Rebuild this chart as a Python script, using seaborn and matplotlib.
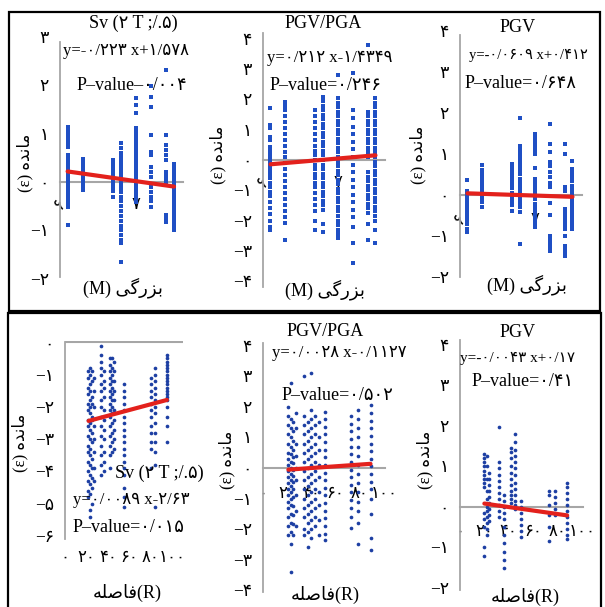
import matplotlib
matplotlib.use("Agg")
import matplotlib.pyplot as plt
import numpy as np
import pandas as pd
import seaborn as sns
from matplotlib.patches import Rectangle

sns.set_theme(style="white")
plt.rcParams["font.family"] = ["Liberation Serif", "DejaVu Sans"]
plt.rcParams["axes.unicode_minus"] = True

# ---------------- data ----------------
# magnitude (M) columns shared by the three upper panels
M_COLS = [6.1, 6.3, 6.7, 6.8, 7.0, 7.2, 7.4, 7.5]

SV_M_RES = [
    [1.14, 1.08, 1.02, 0.96, 0.9, 0.84, 0.78, 0.72, 0.55, 0.48, 0.42, 0.35, 0.28, 0.22, 0.15,
     0.08, 0.02, -0.05, -0.12, -0.2, -0.28, -0.36, -0.44, -0.51, -0.89],
    [0.47, 0.4, 0.33, 0.26, 0.19, 0.12, 0.05, -0.02, -0.09, -0.16],
    [0.45, 0.37, 0.29, 0.21, 0.13, 0.05, -0.03, -0.11, -0.19, -0.3],
    [0.81, 0.7, 0.6, 0.52, 0.44, 0.36, 0.28, 0.2, 0.12, 0.04, -0.04, -0.12, -0.2, -0.3, -0.4,
     -0.5, -0.6, -0.7, -0.8, -0.9, -1.0, -1.1, -1.2, -1.26, -1.64],
    [1.73, 1.59, 1.43, 1.11, 1.03, 0.95, 0.87, 0.79, 0.71, 0.63, 0.55, 0.47, 0.39, 0.31, 0.23,
     0.15, 0.07, -0.01, -0.09, -0.17, -0.25, -0.33, -0.41],
    [1.97, 1.76, 1.55, 0.97, 0.62, 0.55, 0.31, 0.2, 0.1, -0.1, -0.2, -0.3, -0.4, -0.51],
    [2.31, 0.97, 0.76, 0.66, 0.56, 0.45, 0.21, 0.14, 0.07, 0.01, -0.68, -0.75, -0.82],
    [0.38, 0.3, 0.22, 0.14, 0.06, -0.02, -0.1, -0.18, -0.26, -0.34, -0.42, -0.5, -0.58, -0.66,
     -0.74, -0.82, -0.9, -0.99],
]

PGVPGA_M_RES = [
    [1.71, 1.16, 1.05, 0.77, 0.66, 0.44, 0.34, 0.24, 0.14, 0.04, -0.06, -0.16, -0.26, -0.36,
     -0.46, -0.6, -0.75, -0.9, -1.05, -1.2, -1.4, -1.6, -1.8, -2.0, -2.2, -2.31],
    [1.93, 1.8, 1.65, 1.45, 1.25, 1.05, 0.85, 0.65, 0.45, 0.25, 0.1, -0.1, -0.3, -0.5, -0.7,
     -0.9, -1.1, -1.3, -1.5, -1.7, -1.9, -2.09, -2.64],
    [1.65, 1.45, 1.25, 1.05, 0.85, 0.65, 0.45, 0.3, 0.15, 0.0, -0.15, -0.3, -0.45, -0.6, -0.75,
     -0.9, -1.1, -1.3, -1.5, -1.7, -2.0, -2.31],
    [2.09, 1.95, 1.8, 1.65, 1.5, 1.35, 1.2, 1.05, 0.9, 0.75, 0.6, 0.45, 0.3, 0.15, 0.0, -0.15,
     -0.3, -0.45, -0.6, -0.75, -0.9, -1.05, -1.2, -1.35, -1.5, -1.65, -2.1, -2.37],
    [2.81, 2.04, 1.9, 1.75, 1.6, 1.45, 1.3, 1.15, 1.0, 0.85, 0.7, 0.55, 0.4, 0.25, 0.1, -0.05,
     -0.2, -0.35, -0.5, -0.65, -0.8, -0.95, -1.1, -1.25, -1.4, -1.55, -1.7, -1.85, -2.0, -2.15,
     -2.3, -2.45, -2.59],
    [2.87, 1.65, 1.4, 1.1, 0.85, 0.6, 0.35, 0.1, -0.15, -0.4, -0.65, -0.9, -1.15, -1.4, -1.65,
     -1.9, -2.2, -2.75, -3.42],
    [3.8, 1.6, 1.45, 1.3, 1.15, 1.0, 0.85, 0.7, 0.55, 0.4, 0.25, 0.1, -0.4, -0.55, -0.7, -0.85,
     -1.0, -1.15, -1.3, -1.45, -1.6, -1.75, -2.1, -2.64],
    [2.04, 1.9, 1.75, 1.6, 1.45, 1.3, 1.15, 1.0, 0.85, 0.7, 0.55, 0.4, 0.25, 0.1, -0.05, -0.2,
     -0.35, -0.5, -0.65, -0.8, -0.95, -1.1, -1.25, -1.4, -1.55, -1.7, -1.85, -2.0, -2.3, -2.75],
]

PGV_M_RES = [
    [0.37, 0.1, 0.02, -0.06, -0.14, -0.22, -0.3, -0.38, -0.46, -0.54, -0.62, -0.72, -0.82, -0.91],
    [0.72, 0.62, 0.52, 0.42, 0.32, 0.22, 0.12, 0.02, -0.08, -0.18, -0.3],
    [0.76, 0.66, 0.56, 0.46, 0.36, 0.26, 0.16, 0.06, -0.04, -0.14, -0.24, -0.38],
    [1.87, 1.2, 1.1, 1.0, 0.9, 0.8, 0.7, 0.6, 0.5, 0.4, 0.3, 0.2, 0.1, 0.0, -0.1, -0.2, -0.3,
     -0.42, -1.2],
    [1.49, 1.39, 1.29, 1.19, 1.09, 1.0, 0.67, 0.39, 0.29, 0.19, 0.09, -0.01, -0.11, -0.21,
     -0.31, -0.41, -0.51, -0.61, -0.71, -0.79],
    [1.73, 1.24, 1.04, 0.8, 0.7, 0.55, 0.45, 0.3, 0.19, -0.2, -0.5, -0.99, -1.1, -1.2, -1.28, -1.36],
    [1.24, 1.0, 0.19, 0.1, -0.34, -0.44, -0.54, -0.64, -0.74, -0.84, -0.99, -1.24, -1.32, -1.4, -1.48],
    [0.84, 0.63, 0.53, 0.43, 0.33, 0.23, 0.13, 0.03, -0.07, -0.17, -0.27, -0.37, -0.47, -0.57,
     -0.67, -0.75, -0.83],
]

# distance (R, km) columns for the three lower panels
SV_R_COLS = [21, 23, 25, 27, 34, 36, 42, 44, 46, 55, 80, 84, 95]
SV_R_RES = [
    [-0.9, -1.1, -1.4, -1.6, -1.9, -2.1, -2.4, -2.6, -2.9, -3.2, -3.4, -3.7, -4.0, -4.3, -4.6, -4.8],
    [-0.8, -1.0, -1.3, -1.5, -1.8, -2.0, -2.2, -2.5, -2.7, -3.0, -3.3, -3.5, -3.8, -4.1, -4.4,
     -4.7, -5.2, -5.4],
    [-0.9, -1.2, -1.7, -1.9, -2.3, -2.4, -2.8, -3.1, -3.6, -3.9, -4.2, -4.5, -5.0],
    [-1.1, -1.5, -2.0, -2.6, -3.0, -3.4, -3.9, -4.3],
    [-0.1, -0.4, -0.6, -0.8, -1.0, -1.3, -1.5, -1.8, -2.0, -2.3, -2.6, -2.9, -3.2, -3.5, -3.8, -4.1],
    [-0.9, -1.2, -1.4, -1.7, -2.1, -2.4, -2.7, -3.0, -3.4, -3.7, -4.0],
    [-0.5, -0.7, -0.9, -1.1, -1.3, -1.5, -1.7, -1.9, -2.1, -2.3, -2.6, -2.9, -3.2, -3.5, -3.9],
    [-0.5, -0.8, -1.0, -1.2, -1.4, -1.6, -1.8, -2.0, -2.2, -2.5, -2.8, -3.1, -3.4],
    [-0.6, -0.9, -1.2, -1.5, -1.8, -2.1, -2.4, -2.7, -3.0, -3.3],
    [-1.3, -1.5, -1.7, -1.9, -2.1, -2.3, -2.5, -2.7, -2.9, -3.1, -3.3, -3.5, -3.7, -3.9, -4.1,
     -4.5, -4.8, -5.1],
    [-1.1, -1.3, -1.5, -1.7, -1.9, -2.1, -2.3, -2.6, -2.8, -3.1, -3.3, -3.9],
    [-0.8, -1.0, -1.2, -1.4, -1.6, -1.8, -2.0, -2.2, -2.5, -2.8, -3.1, -3.4, -3.8, -5.1],
    [-0.4, -0.5, -0.6, -0.7, -0.8, -0.9, -1.0, -1.1, -1.2, -1.3, -1.4, -1.5, -1.6, -1.7, -1.8,
     -2.0, -2.3, -2.6, -3.1],
]

PGVPGA_R_COLS = [21, 23, 25, 27, 34, 37, 40, 43, 46, 51, 73, 79, 89]
PGVPGA_R_RES = [
    [2.0, 1.7, 1.4, 1.1, 0.8, 0.5, 0.3, 0.1, -0.1, -0.3, -0.5, -0.7, -0.9, -1.1, -1.3, -1.6, -1.9, -2.2],
    [2.8, 1.6, 1.3, 1.0, 0.7, 0.45, 0.2, 0.0, -0.2, -0.4, -0.6, -0.8, -1.0, -1.2, -1.5, -1.8,
     -2.1, -2.5, -3.4],
    [1.5, 1.2, 0.9, 0.6, 0.35, 0.15, -0.05, -0.25, -0.45, -0.7, -0.95, -1.25, -1.55, -1.85, -2.2],
    [1.8, 1.3, 0.8, 0.4, 0.0, -0.4, -0.9, -1.4, -1.9],
    [3.0, 1.7, 1.4, 1.1, 0.8, 0.5, 0.2, -0.1, -0.4, -0.7, -1.0, -1.3, -1.6, -2.0, -2.2],
    [1.5, 1.2, 0.9, 0.6, 0.3, 0.0, -0.3, -0.6, -0.9, -1.2, -1.5, -1.8, -2.1, -2.6],
    [3.1, 1.9, 1.6, 1.3, 1.0, 0.7, 0.4, 0.1, -0.2, -0.5, -0.8, -1.1, -1.4, -1.7, -2.0, -2.3],
    [1.7, 1.4, 1.1, 0.8, 0.5, 0.2, -0.1, -0.4, -0.7, -1.0, -1.3, -1.6, -1.9],
    [1.5, 1.0, 0.6, 0.1, -0.3, -0.8, -1.2, -1.7, -2.2],
    [1.85, 1.6, 1.35, 1.1, 0.85, 0.6, 0.35, 0.1, -0.15, -0.4, -0.65, -0.9, -1.15, -1.4, -1.65,
     -1.9, -2.15, -2.36],
    [1.7, 1.45, 1.2, 0.95, 0.7, 0.45, 0.2, -0.05, -0.3, -0.55, -0.8, -1.05, -1.3, -1.6, -1.98],
    [1.9, 1.6, 1.3, 1.0, 0.7, 0.4, 0.1, -0.2, -0.5, -0.8, -1.1, -1.4, -1.8, -2.5],
    [2.05, 1.8, 1.55, 1.3, 1.05, 0.8, 0.55, 0.3, 0.05, -0.2, -0.45, -0.7, -1.0, -1.5, -2.3, -2.7],
]

PGV_R_COLS = [20, 22, 24, 32, 36, 42, 45, 50, 73, 78, 88]
PGV_R_RES = [
    [1.3, 1.2, 1.1, 1.0, 0.9, 0.8, 0.7, 0.6, 0.5, -0.15, -0.3, -0.5, -1.0, -1.2],
    [1.25, 1.0, 0.7, 0.4, 0.2, 0.0, -0.1, -0.25, -0.4, -0.55, -0.7],
    [0.85, 0.7, 0.55, 0.4, 0.25, 0.1, -0.05, -0.2, -0.35],
    [1.98, 1.1, 0.95, 0.8, 0.65, 0.5, 0.35, 0.2, 0.05, -0.1, -0.25],
    [0.3, 0.15, 0.0, -0.15, -0.3, -0.5, -0.7, -0.9, -1.1, -1.3, -1.5],
    [1.45, 1.35, 1.2, 1.0, 0.85, 0.7, 0.55, 0.4, 0.3, 0.2, 0.1],
    [1.8, 1.6, 1.4, 1.25, 1.1, 0.95, 0.8, 0.6, 0.45, 0.3, 0.15, 0.05, -0.05],
    [0.15, 0.0, -0.15, -0.3, -0.45, -0.6, -0.75],
    [0.4, 0.3, 0.05, -0.2, -0.5, -0.85],
    [0.4, 0.25, 0.1, -0.05, -0.2],
    [0.6, 0.5, 0.35, 0.2, 0.05, -0.1, -0.25, -0.4, -0.55, -0.7, -0.8],
]

# fitted trend lines: slope, intercept, p-value
SLOPES = [-0.223, 0.212, -0.0609, 0.0089, 0.0028, -0.0043]
INTERCEPTS = [1.578, -1.4349, 0.412, -2.63, -0.1127, 0.17]
P_VALUES = ["0.004", "0.246", "0.648", "0.015", "0.502", "0.41"]
TITLES = ["Sv (2 T ;/.5)", "PGV/PGA", "PGV", "Sv (2 T ;/.5)", "PGV/PGA", "PGV"]
M_TICKS = [6, 7]
R_TICKS = [0, 20, 40, 60, 80, 100]

# ---------------- helpers ----------------
FA_DIGITS = str.maketrans("0123456789", "\u06f0\u06f1\u06f2\u06f3\u06f4\u06f5\u06f6\u06f7\u06f8\u06f9")


def fa(s):
    return str(s).translate(FA_DIGITS)


def fa_tick(v):
    s = fa(abs(int(round(v))))
    return ("\u2212" + s) if v < 0 else s


def fa_num(v):
    return fa(repr(abs(v))).replace(".", "/")


def equation(a, b):
    sa = ("-" if a < 0 else "") + fa_num(a)
    sb = ("-" if b < 0 else "+") + fa_num(b)
    return f"y={sa} x{sb}"


# Persian labels, written in display order with joined letter forms
RESID = "\ufee9\ufeaa\ufee7\ufe8e\ufee3"      # residual
MAGN = "\ufbfd\ufb94\ufead\ufeb0\ufe91"       # magnitude
DIST = "\ufeea\ufee0\ufebb\ufe8e\ufed3"       # distance
YLABEL = "(\u03b5) " + RESID
XLABEL_M = "(M) " + MAGN
XLABEL_R = DIST + "(R)"

W, H = 605, 607
fig = plt.figure(figsize=(W / 100, H / 100), dpi=100)
fig.patch.set_facecolor("white")

GRAY = "#a6a6a6"
RED = "#e3211c"
SQ_BLUE = "#1f4fc4"
DOT_BLUE = "#1d3fa3"
FAM = ["Liberation Serif", "DejaVu Sans"]


def px_axes(left, right, top, bottom):
    return fig.add_axes([left / W, 1 - bottom / H, (right - left) / W, (bottom - top) / H])


def ftext(x, y, s, size, ha="left", va="center", rot=0):
    fig.text(x / W, 1 - y / H, s, fontsize=size, ha=ha, va=va, rotation=rot,
             family=FAM, color="black")


def long_form(cols, res):
    xs, ys = [], []
    for c, vals in zip(cols, res):
        xs += [c] * len(vals)
        ys += list(vals)
    return pd.DataFrame({"x": xs, "y": ys})


panels = [
    # rect (left, right, top, bottom) in px, xlim, ylim, spine bounds, yticks, line range
    dict(rect=(60, 183, 34.1, 281.4), xlim=(6, 7.618), ylim=(-2.05, 3.05), sb=(-1.96, 2.89),
         yt=range(-2, 4), cols=M_COLS, res=SV_M_RES, xr=(6.1, 7.5), marker="s",
         xt=M_TICKS, pad=10.5, zero_top=False),
    dict(rect=(263, 385, 31.4, 288.6), xlim=(6, 7.627), ylim=(-4.25, 4.25), sb=(-4.2, 4.2),
         yt=range(-4, 5), cols=M_COLS, res=PGVPGA_M_RES, xr=(6.1, 7.5), marker="s",
         xt=M_TICKS, pad=10.5, zero_top=False),
    dict(rect=(460, 582, 29.0, 279.0), xlim=(6, 7.627), ylim=(-2.05, 4.05), sb=(-2.0, 3.9),
         yt=range(-2, 5), cols=M_COLS, res=PGV_M_RES, xr=(6.1, 7.5), marker="s",
         xt=M_TICKS, pad=12, zero_top=False),
    dict(rect=(65, 183, 340.7, 539.3), xlim=(0, 110), ylim=(-6.1, 0.05), sb=(-6.1, 0.0),
         yt=range(-6, 1), cols=SV_R_COLS, res=SV_R_RES, xr=(22, 95), marker="o",
         xt=R_TICKS, pad=7.5, zero_top=True),
    dict(rect=(263, 385, 341.4, 594.6), xlim=(0, 101), ylim=(-4.15, 4.15), sb=(-4.08, 4.1),
         yt=range(-4, 5), cols=PGVPGA_R_COLS, res=PGVPGA_R_RES, xr=(21, 89), marker="o",
         xt=R_TICKS, pad=13, zero_top=False),
    dict(rect=(460, 583, 338.9, 592.0), xlim=(0, 101), ylim=(-2.1, 4.15), sb=(-2.05, 4.12),
         yt=range(-2, 5), cols=PGV_R_COLS, res=PGV_R_RES, xr=(20, 88), marker="o",
         xt=R_TICKS, pad=12, zero_top=False),
]

for i, p in enumerate(panels):
    ax = px_axes(*p["rect"])
    ax.set_facecolor("none")
    df = long_form(p["cols"], p["res"])
    if p["marker"] == "s":
        sns.scatterplot(data=df, x="x", y="y", ax=ax, marker="s", s=6.5, color=SQ_BLUE,
                        linewidth=0, legend=False, zorder=2)
    else:
        sns.scatterplot(data=df, x="x", y="y", ax=ax, marker="o", s=7, color=DOT_BLUE,
                        linewidth=0, legend=False, zorder=2)
    line = pd.DataFrame({"x": list(p["xr"])})
    line["y"] = SLOPES[i] * line["x"] + INTERCEPTS[i]
    sns.lineplot(data=line, x="x", y="y", ax=ax, color=RED, linewidth=3, zorder=4)

    ax.set_xlim(*p["xlim"])
    ax.set_ylim(*p["ylim"])
    ax.set_xlabel("")
    ax.set_ylabel("")
    for side in ("top", "right"):
        ax.spines[side].set_visible(False)
    ax.spines["left"].set_color(GRAY)
    ax.spines["left"].set_linewidth(1.3)
    ax.spines["left"].set_bounds(*p["sb"])
    if p["zero_top"]:
        ax.spines["bottom"].set_visible(False)
        ax.axhline(0, color=GRAY, linewidth=1.5, zorder=1)
    else:
        ax.spines["bottom"].set_position(("data", 0))
        ax.spines["bottom"].set_color(GRAY)
        ax.spines["bottom"].set_linewidth(1.5)
        ax.spines["bottom"].set_zorder(1)
    ax.set_yticks(list(p["yt"]))
    ax.set_yticklabels([fa_tick(v) for v in p["yt"]], family=FAM)
    ax.set_xticks(p["xt"])
    ax.set_xticklabels([fa(v) for v in p["xt"]], family=FAM)
    ax.tick_params(axis="y", length=0, pad=8, labelsize=12.5, colors="black")
    ax.tick_params(axis="x", length=0, pad=p["pad"], labelsize=12, colors="black")
    if p["marker"] == "s":
        ax.get_xticklabels()[0].set_rotation(60)
    ax.grid(False)

# panel texts: titles, equations, p-values, axis labels
ftext(133, 23, fa(TITLES[0]), 13, ha="center")
ftext(63, 51, equation(SLOPES[0], INTERCEPTS[0]), 12)
ftext(77, 85, "P\u2013value\u2013" + fa(P_VALUES[0]).replace(".", "/"), 13)
ftext(123, 288, XLABEL_M, 13, ha="center")
ftext(25, 163, YLABEL, 12, ha="center", rot=90)

ftext(323, 23, TITLES[1], 13, ha="center")
ftext(267, 58, equation(SLOPES[1], INTERCEPTS[1]), 12)
ftext(270, 85, "P\u2013value=" + fa(P_VALUES[1]).replace(".", "/"), 13)
ftext(325, 290, XLABEL_M, 13, ha="center")
ftext(218, 155, YLABEL, 12, ha="center", rot=90)

ftext(518, 28, TITLES[2], 13, ha="center")
ftext(469, 55, equation(SLOPES[2], INTERCEPTS[2]), 10.5)
ftext(465, 83, "P\u2013value=" + fa(P_VALUES[2]).replace(".", "/"), 13)
ftext(527, 285, XLABEL_M, 13, ha="center")
ftext(418, 155, YLABEL, 12, ha="center", rot=90)

ftext(115, 473, fa(TITLES[3]), 13)
ftext(73, 500, equation(SLOPES[3], INTERCEPTS[3]), 12)
ftext(73, 528, "P\u2013value=" + fa(P_VALUES[3]).replace(".", "/"), 13)
ftext(127, 593, XLABEL_R, 13, ha="center")
ftext(20, 443, YLABEL, 12, ha="center", rot=90)

ftext(325, 332, TITLES[4], 13, ha="center")
ftext(272, 353, equation(SLOPES[4], INTERCEPTS[4]), 12)
ftext(282, 395, "P\u2013value=" + fa(P_VALUES[4]).replace(".", "/"), 13)
ftext(325, 595, XLABEL_R, 13, ha="center")
ftext(227, 460, YLABEL, 12, ha="center", rot=90)

ftext(518, 333, TITLES[5], 13, ha="center")
ftext(460, 358, equation(SLOPES[5], INTERCEPTS[5]), 11)
ftext(472, 382, "P\u2013value=" + fa(P_VALUES[5]).replace(".", "/"), 13)
ftext(525, 597, XLABEL_R, 13, ha="center")
ftext(425, 460, YLABEL, 12, ha="center", rot=90)

# the two framed groups
for (x0, y0, x1, y1) in [(9, 12, 600, 311), (8, 313, 601, 609)]:
    fig.patches.append(Rectangle((x0 / W, 1 - y1 / H), (x1 - x0) / W, (y1 - y0) / H,
                                 transform=fig.transFigure, fill=False,
                                 edgecolor="black", linewidth=1.6, zorder=10))

fig.savefig("out.png", dpi=100, facecolor="white")
